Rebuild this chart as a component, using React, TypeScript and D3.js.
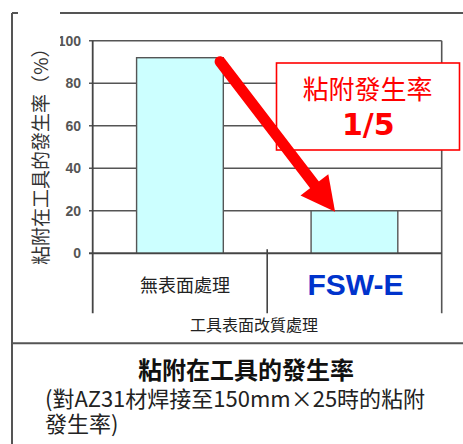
import React from "react";
import * as d3 from "d3";

const categories = ["無表面處理", "FSW-E"];
const values = [92, 20];
const yTicks = [0, 20, 40, 60, 80, 100];
const yTitle = "粘附在工具的發生率（%）";
const xTitle = "工具表面改質處理";
const calloutLines = ["粘附發生率", "1/5"];
const chartTitle = "粘附在工具的發生率";
const subtitleLines = ["(對AZ31材焊接至150mm×25時的粘附", "發生率)"];

const W = 463;
const H = 444;
const CJK = "'Noto Sans CJK TC', 'Noto Sans CJK SC', sans-serif";
const GRAY = "#555";

export default function App() {
  const x = d3.scaleBand<string>().domain(categories).range([92.7, 441.7]).padding(0);
  const y = d3.scaleLinear().domain([0, 100]).range([253.3, 40.7]);
  const bw = x.bandwidth();
  const barW = bw * 0.497;

  // arrow from top-right of first bar to top of second bar
  const sx = (x(categories[0]) as number) + bw * 0.73;
  const sy = y(values[0]) + 4;
  const tx = (x(categories[1]) as number) + bw * 0.389;
  const ty = y(values[1]) + 1;
  const dx = tx - sx;
  const dy = ty - sy;
  const len = Math.hypot(dx, dy);
  const ux = dx / len;
  const uy = dy / len;
  const headLen = 34;
  const headHalf = 17.5;
  const bx = tx - ux * headLen;
  const by = ty - uy * headLen;
  const px = -uy;
  const py = ux;

  const plotLeft = 92.7;
  const plotRight = 441.7;
  const y0 = y(0);

  return (
    <svg width={W} height={H} style={{ position: "absolute", left: 0, top: 0, background: "#fff" }}>
      <rect x={0} y={0} width={W} height={H} fill="#fff" />
      {/* gridlines */}
      {yTicks.map((t) => (
        <line key={t} x1={89} x2={plotRight} y1={y(t)} y2={y(t)} stroke={GRAY} strokeWidth={1.6} />
      ))}
      {/* plot border right */}
      <line x1={plotRight} x2={plotRight} y1={y(100)} y2={313.3} stroke={GRAY} strokeWidth={1.6} />
      {/* bars */}
      {categories.map((c, i) => (
        <rect
          key={c}
          x={(x(c) as number) + (bw - barW) / 2}
          y={y(values[i])}
          width={barW}
          height={y0 - y(values[i])}
          fill="#ccffff"
          stroke={GRAY}
          strokeWidth={1.4}
        />
      ))}
      {/* axes */}
      <line x1={plotLeft} x2={plotLeft} y1={y(100)} y2={313.3} stroke="#444" strokeWidth={1.8} />
      <line x1={89} x2={plotRight} y1={y0} y2={y0} stroke="#444" strokeWidth={1.8} />
      <line
        x1={x(categories[1]) as number}
        x2={x(categories[1]) as number}
        y1={y0 - 4}
        y2={313.3}
        stroke="#444"
        strokeWidth={1.6}
      />
      {/* tick labels */}
      {yTicks.map((t) => (
        <text
          key={t}
          x={81}
          y={y(t)}
          dy="0.36em"
          textAnchor="end"
          fontFamily="'Liberation Sans', Arial, sans-serif"
          fontWeight="bold"
          fontSize={14}
          fill="#555"
        >
          {t}
        </text>
      ))}
      {/* category labels */}
      <text
        x={(x(categories[0]) as number) + bw / 2 + 5}
        y={292}
        textAnchor="middle"
        fontFamily={CJK}
        fontSize={18}
        fill="#222"
      >
        {categories[0]}
      </text>
      <text
        x={(x(categories[1]) as number) + bw / 2 + 1}
        y={295}
        textAnchor="middle"
        fontFamily="'Liberation Sans', Arial, sans-serif"
        fontWeight="bold"
        fontSize={30}
        fill="#0033cc"
      >
        {categories[1]}
      </text>
      {/* x title */}
      <text x={254} y={331} textAnchor="middle" fontFamily={CJK} fontSize={16} fill="#222">
        {xTitle}
      </text>
      {/* y title */}
      <text
        transform={`translate(39,151.7) rotate(-90)`}
        textAnchor="middle"
        dominantBaseline="central"
        fontFamily={CJK}
        fontSize={19}
        fill="#333"
      >
        {yTitle}
      </text>
      {/* callout */}
      <rect x={276.5} y={63} width={183} height={87} fill="#fff" stroke="#ff0000" strokeWidth={1.6} />
      <text x={367.5} y={98.5} textAnchor="middle" fontFamily={CJK} fontSize={26} fill="#ff0000">
        {calloutLines[0]}
      </text>
      <text
        x={368.3}
        y={135}
        textAnchor="middle"
        fontFamily="'DejaVu Sans', sans-serif"
        fontWeight="bold"
        fontSize={30}
        fill="#ff0000"
      >
        {calloutLines[1]}
      </text>
      {/* arrow */}
      <line
        x1={sx}
        y1={sy}
        x2={bx + ux * 4}
        y2={by + uy * 4}
        stroke="#ff0000"
        strokeWidth={11}
        strokeLinecap="round"
      />
      <path
        d={`M${tx},${ty} L${bx + px * headHalf},${by + py * headHalf} L${bx - px * headHalf},${by - py * headHalf} Z`}
        fill="#ff0000"
      />
      {/* outer frame */}
      <rect x={18} y={0} width={42} height={48} fill="#fff" />
      <line x1={12} x2={12} y1={13} y2={H} stroke={GRAY} strokeWidth={2} />
      <line x1={12} x2={18} y1={13} y2={13} stroke={GRAY} strokeWidth={2} />
      <line x1={60} x2={W} y1={13} y2={13} stroke={GRAY} strokeWidth={2} />
      <line x1={12} x2={W} y1={343.3} y2={343.3} stroke={GRAY} strokeWidth={2} />
      {/* title */}
      <text x={246} y={379} textAnchor="middle" fontFamily={CJK} fontWeight="bold" fontSize={24} fill="#111">
        {chartTitle}
      </text>
      {subtitleLines.map((l, i) => (
        <text key={i} x={45} y={407 + i * 25} fontFamily={CJK} fontSize={22} fill="#222">
          {l}
        </text>
      ))}
    </svg>
  );
}
